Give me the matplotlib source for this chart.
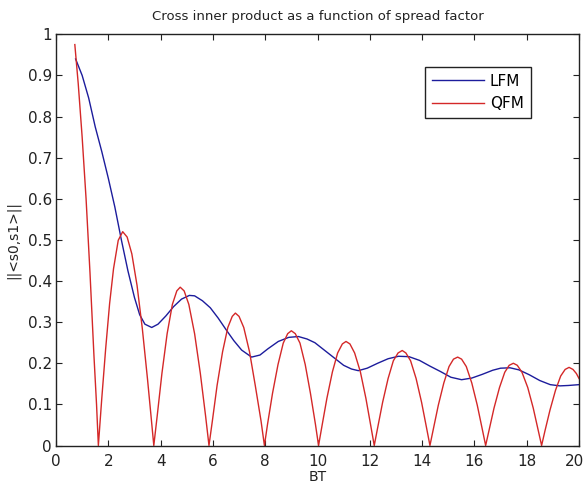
import matplotlib
matplotlib.use("Agg")
import matplotlib.pyplot as plt
from matplotlib.transforms import ScaledTranslation

# ---- data ----
lfm_x = [0.75, 1.0, 1.25, 1.5, 1.75, 2.0, 2.25, 2.5, 2.75, 3.0, 3.2, 3.4, 3.66,
         3.9, 4.2, 4.5, 4.8, 5.1, 5.3, 5.6, 5.9, 6.2, 6.5, 6.8, 7.1, 7.48,
         7.8, 8.1, 8.5, 8.9, 9.27, 9.6, 9.9, 10.2, 10.6, 11.0, 11.3, 11.56,
         11.9, 12.3, 12.7, 13.1, 13.5, 13.9, 14.3, 14.7, 15.1, 15.51, 15.9,
         16.3, 16.7, 17.0, 17.36, 17.7, 18.1, 18.5, 18.9, 19.27, 19.6, 20.0]
lfm_y = [0.94, 0.90, 0.845, 0.775, 0.715, 0.65, 0.58, 0.50, 0.425, 0.36, 0.318,
         0.295, 0.287, 0.295, 0.315, 0.338, 0.356, 0.365, 0.364, 0.352, 0.335,
         0.31, 0.282, 0.255, 0.232, 0.215, 0.22, 0.235, 0.253, 0.263, 0.265,
         0.259, 0.25, 0.235, 0.215, 0.195, 0.186, 0.182, 0.188, 0.2, 0.211,
         0.217, 0.216, 0.207, 0.193, 0.18, 0.166, 0.16, 0.164, 0.173, 0.183,
         0.188, 0.189, 0.184, 0.172, 0.158, 0.148, 0.145, 0.146, 0.148]

qfm_x = [0.72, 0.85, 1.0, 1.15, 1.30, 1.45, 1.55, 1.62,
         1.75, 1.90, 2.05, 2.20, 2.38, 2.55, 2.72, 2.90, 3.10, 3.30, 3.50, 3.62, 3.74,
         3.87, 4.05, 4.25, 4.45, 4.62, 4.75, 4.90, 5.08, 5.30, 5.52, 5.72, 5.85,
         5.98, 6.16, 6.37, 6.57, 6.74, 6.86, 7.00, 7.18, 7.40, 7.62, 7.84, 7.97,
         8.09, 8.28, 8.49, 8.69, 8.86, 9.00, 9.15, 9.33, 9.53, 9.73, 9.92, 10.04,
         10.17, 10.36, 10.57, 10.77, 10.95, 11.09, 11.24, 11.42, 11.64, 11.85, 12.04, 12.17,
         12.30, 12.49, 12.70, 12.90, 13.08, 13.24, 13.38, 13.56, 13.77, 13.98, 14.17, 14.30,
         14.43, 14.62, 14.83, 15.03, 15.20, 15.36, 15.51, 15.69, 15.90, 16.11, 16.30, 16.43,
         16.56, 16.75, 16.96, 17.16, 17.33, 17.49, 17.64, 17.82, 18.04, 18.25, 18.44, 18.57,
         18.70, 18.89, 19.10, 19.30, 19.47, 19.62, 19.77, 19.90, 20.0]
qfm_y = [0.975, 0.88, 0.75, 0.60, 0.42, 0.22, 0.10, 0.0,
         0.114, 0.236, 0.345, 0.43, 0.499, 0.52, 0.507, 0.466, 0.389, 0.285, 0.161, 0.081, 0.0,
         0.072, 0.175, 0.272, 0.343, 0.376, 0.385, 0.376, 0.343, 0.272, 0.175, 0.072, 0.0,
         0.060, 0.146, 0.228, 0.287, 0.314, 0.322, 0.314, 0.287, 0.228, 0.146, 0.060, 0.0,
         0.052, 0.127, 0.197, 0.249, 0.272, 0.279, 0.272, 0.249, 0.197, 0.127, 0.052, 0.0,
         0.047, 0.115, 0.179, 0.225, 0.247, 0.253, 0.247, 0.225, 0.179, 0.115, 0.047, 0.0,
         0.043, 0.105, 0.163, 0.206, 0.225, 0.231, 0.225, 0.206, 0.163, 0.105, 0.043, 0.0,
         0.040, 0.098, 0.152, 0.192, 0.210, 0.215, 0.210, 0.192, 0.152, 0.098, 0.040, 0.0,
         0.037, 0.091, 0.141, 0.178, 0.195, 0.200, 0.195, 0.178, 0.141, 0.091, 0.037, 0.0,
         0.036, 0.086, 0.134, 0.169, 0.185, 0.190, 0.185, 0.175, 0.163]

x_ticks = [0, 2, 4, 6, 8, 10, 12, 14, 16, 18, 20]
y_ticks = [0, 0.1, 0.2, 0.3, 0.4, 0.5, 0.6, 0.7, 0.8, 0.9, 1]
y_tick_labels = ["0", "0.1", "0.2", "0.3", "0.4", "0.5", "0.6", "0.7", "0.8", "0.9", "1"]
series_labels = ["LFM", "QFM"]

plt.rcParams['font.family'] = ['DejaVu Sans']

fig = plt.figure(figsize=(5.87, 4.86), dpi=100)
fig.patch.set_facecolor('white')
ax = fig.add_axes([56 / 587, 40.5 / 486, 523 / 587, 411.2 / 486])

ax.plot(lfm_x, lfm_y, color='#1c1c9c', lw=1.0, label=series_labels[0])
ax.plot(qfm_x, qfm_y, color='#d42828', lw=1.0, label=series_labels[1])

ax.set_xlim(0, 20)
ax.set_ylim(0, 1)
ax.set_xticks(x_ticks)
ax.set_yticks(y_ticks)
ax.set_yticklabels(y_tick_labels)
ax.tick_params(direction='in', length=4, width=0.8, top=True, right=True,
               labelsize=11, colors='#222222')
ax.tick_params(axis='x', pad=6)
ax.tick_params(axis='y', pad=3)
for s in ax.spines.values():
    s.set_linewidth(1.0)
    s.set_color('#222222')

# keep the last x tick label inside the figure, as in the reference
fig.canvas.draw()
last = ax.get_xticklabels()[-1]
last.set_transform(last.get_transform() + ScaledTranslation(-5 / 100, 0, fig.dpi_scale_trans))

ax.set_title("Cross inner product as a function of spread factor", fontsize=9.5,
             pad=10, color='#222222')
ax.set_xlabel("BT", fontsize=10, labelpad=1, color='#222222')
ax.set_ylabel("||<s0,s1>||", fontsize=10, labelpad=5, color='#222222')

leg = ax.legend(loc='upper right', bbox_to_anchor=(0.9076, 0.921), borderaxespad=0,
                fancybox=False, edgecolor='#222222', framealpha=1, fontsize=11,
                handlelength=3.4, handletextpad=0.4, borderpad=0.45, labelspacing=0.5)
leg.get_frame().set_linewidth(1.0)

fig.savefig("out.png", dpi=100, facecolor='white')
